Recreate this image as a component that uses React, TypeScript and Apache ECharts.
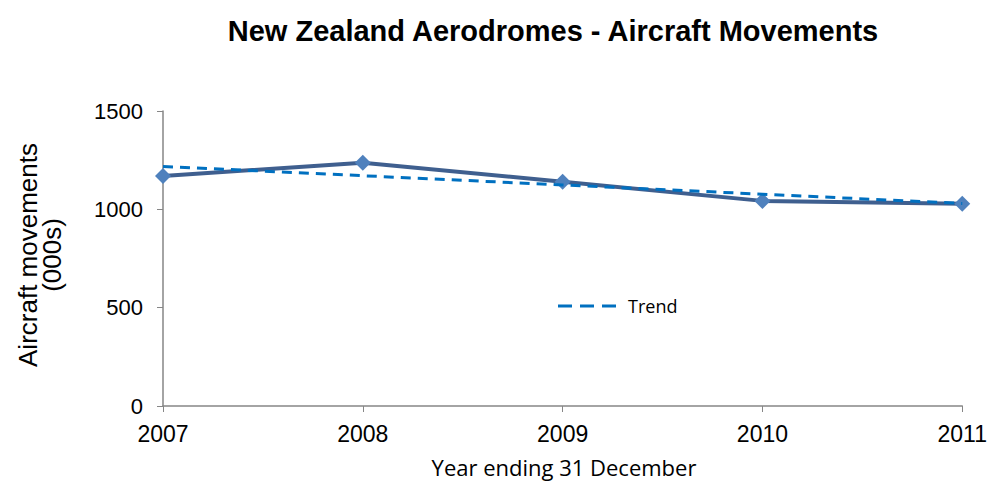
import React, { useEffect, useRef } from "react";
import * as echarts from "echarts";

const years = ["2007", "2008", "2009", "2010", "2011"];
const movements = [1170, 1237, 1140, 1043, 1028];
const trend = [1218, 1171, 1124, 1077, 1030];
const yTicks = [0, 500, 1000, 1500];

export default function App() {
  const ref = useRef<HTMLDivElement>(null);
  useEffect(() => {
    const chart = echarts.init(ref.current!, undefined, { renderer: "svg" });
    chart.setOption({
      animation: false,
      backgroundColor: "#ffffff",
      title: {
        text: "New Zealand Aerodromes - Aircraft Movements",
        left: 548,
        top: 11,
        textAlign: "center",
        textStyle: { fontFamily: "Liberation Sans, Arial", fontSize: 29, fontWeight: "bold", color: "#000" },
      },
      grid: { left: 163, right: 22, top: 111, bottom: 76 },
      legend: {
        data: [{ name: "Trend", icon: "path://M0,0h14v3h-14z M22,0h14v3h-14z M44,0h14v3h-14z" }],
        left: 553,
        top: 292,
        itemWidth: 58,
        itemHeight: 3,
        itemGap: 10,
        textStyle: { fontFamily: "Open Sans, Noto Sans", fontSize: 18, color: "#000", padding: [0, 0, 0, 7] },
      },
      xAxis: {
        type: "category",
        data: years,
        boundaryGap: false,
        axisLine: { lineStyle: { color: "#868686", width: 1.5 } },
        axisTick: { show: true, length: 6, inside: false, lineStyle: { color: "#868686" } },
        axisLabel: { fontFamily: "Liberation Sans, Arial", fontSize: 23, color: "#000", margin: 16 },
        splitLine: { show: false },
      },
      yAxis: {
        type: "value",
        min: yTicks[0],
        max: yTicks[yTicks.length - 1],
        interval: 500,
        axisLine: { show: true, lineStyle: { color: "#868686", width: 1.5 } },
        axisTick: { show: true, length: 6, lineStyle: { color: "#868686" } },
        axisLabel: {
          fontFamily: "Liberation Sans, Arial",
          fontSize: 22,
          color: "#000",
          margin: 20,
          formatter: (v: number) => String(v),
        },
        splitLine: { show: false },
      },
      graphic: [
        {
          type: "text",
          x: 40,
          y: 255,
          rotation: Math.PI / 2,
          style: {
            text: "Aircraft movements\n(000s)",
            fontFamily: "Liberation Sans, Arial",
            fontSize: 26,
            lineHeight: 24,
            fill: "#000",
            align: "center",
            verticalAlign: "middle",
          },
        },
        {
          type: "text",
          x: 564,
          y: 467,
          style: {
            text: "Year ending 31 December",
            fontFamily: "Open Sans, Noto Sans",
            fontSize: 22,
            fill: "#000",
            align: "center",
            verticalAlign: "middle",
          },
        },
      ],
      series: [
        {
          name: "Movements",
          type: "line",
          data: movements,
          symbol: "diamond",
          symbolSize: 16,
          itemStyle: { color: "#4F81BD" },
          lineStyle: { color: "#3F5F8F", width: 4 },
          z: 2,
        },
        {
          name: "Trend",
          type: "line",
          data: trend,
          symbol: "none",
          itemStyle: { color: "#0070C0" },
          lineStyle: { color: "#0070C0", width: 3, type: [10, 7] },
          z: 3,
        },
      ],
    });
    return () => chart.dispose();
  }, []);
  return <div ref={ref} style={{ position: "fixed", left: 0, top: 0, width: 990, height: 482 }} />;
}
